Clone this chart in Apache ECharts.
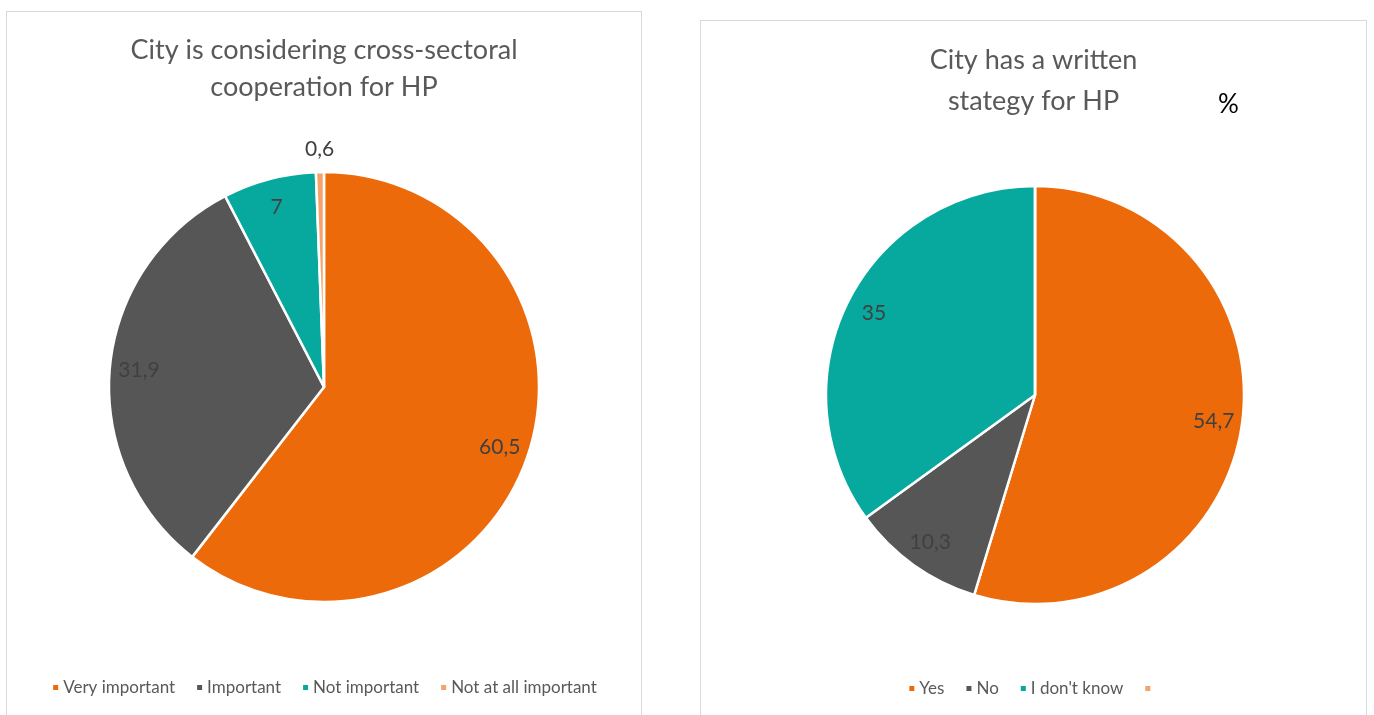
<!DOCTYPE html>
<html>
<head>
<meta charset="utf-8">
<script src="https://cdn.jsdelivr.net/npm/echarts@6/dist/echarts.min.js"></script>
<style>
  html, body { margin: 0; padding: 0; background: #fff; }
  .panel { position: absolute; border: 1px solid #d9d9d9; box-sizing: border-box; background: #fff; }
  #p1 { left: 6px; top: 11px; width: 636px; height: 720px; }
  #p2 { left: 700px; top: 20px; width: 667px; height: 720px; }
</style>
</head>
<body>
<div id="p1" class="panel"></div>
<div id="p2" class="panel"></div>
<script>
// Survey answers, in percent
const titleA = 'City is considering cross-sectoral\ncooperation for HP';
const categoriesA = ['Very important', 'Important', 'Not important', 'Not at all important'];
const valuesA = [60.5, 31.9, 7, 0.6];

const titleB = 'City has a written\nstategy for HP';
const categoriesB = ['Yes', 'No', "I don't know", ' '];
const valuesB = [54.7, 10.3, 35, 0];

const palette = ['#EC6A0A', '#565656', '#07A99E', '#F4A46B'];
const FONT = 'Lato, "Open Sans", sans-serif';
const fmt = v => String(v).replace('.', ',');

function buildData(cats, vals) {
  return cats.map((c, i) => ({ name: c, value: vals[i] }));
}

// A transparent ring that only carries labels, placed at the ring's mid radius
function labelRing(cats, vals, center, r0, r1, shown) {
  return {
    type: 'pie', silent: true, center: center, radius: [r0, r1],
    startAngle: 90, clockwise: true, legendHoverLink: false,
    itemStyle: { color: 'rgba(0,0,0,0)', borderWidth: 0 },
    emphasis: { disabled: true },
    labelLine: { show: false },
    data: cats.map((c, i) => ({
      name: c, value: vals[i],
      label: {
        show: shown.includes(i), position: 'inside',
        formatter: p => fmt(p.value),
        color: '#404040', fontSize: 21, fontFamily: FONT
      }
    }))
  };
}

function mainPie(cats, vals, center, r) {
  return {
    type: 'pie', center: center, radius: r, startAngle: 90, clockwise: true,
    label: { show: false }, labelLine: { show: false },
    emphasis: { disabled: true },
    itemStyle: { borderColor: '#ffffff', borderWidth: 2.5 },
    data: buildData(cats, vals)
  };
}

function legendCfg(cats, top) {
  return {
    data: cats.slice(), top: top, left: 'center', icon: 'rect',
    itemWidth: 7, itemHeight: 7, itemGap: 20,
    selectedMode: false,
    textStyle: { color: '#595959', fontSize: 17, fontFamily: FONT, padding: [0, 0, 0, -1] }
  };
}

const chartA = echarts.init(document.getElementById('p1'));
const cA = [317, 375], RA = 215;
chartA.setOption({
  animation: false,
  color: palette,
  title: {
    text: titleA, left: 'center', top: 15,
    textStyle: { color: '#595959', fontSize: 27, fontWeight: 'normal', fontFamily: FONT, lineHeight: 37 }
  },
  legend: legendCfg(categoriesA, 662),
  series: [
    mainPie(categoriesA, valuesA, cA, RA),
    labelRing(categoriesA, valuesA, cA, RA * 0.70, RA, [0, 1, 2]),
    labelRing(categoriesA, valuesA, cA, RA, RA * 1.18, [3])
  ]
});

const chartB = echarts.init(document.getElementById('p2'));
const cB = [334, 374], RB = 209;
chartB.setOption({
  animation: false,
  color: palette,
  title: [{
    text: titleB, left: 'center', top: 14,
    textStyle: { color: '#595959', fontSize: 27, fontWeight: 'normal', fontFamily: FONT, lineHeight: 41 }
  }, {
    text: '%', left: 512, top: 66,
    textStyle: { color: '#000000', fontSize: 26, fontWeight: 'normal', fontFamily: FONT }
  }],
  legend: legendCfg(categoriesB, 654),
  series: [
    mainPie(categoriesB, valuesB, cB, RB),
    labelRing(categoriesB, valuesB, cB, RB * 0.70, RB, [0, 1, 2])
  ]
});
</script>
</body>
</html>
